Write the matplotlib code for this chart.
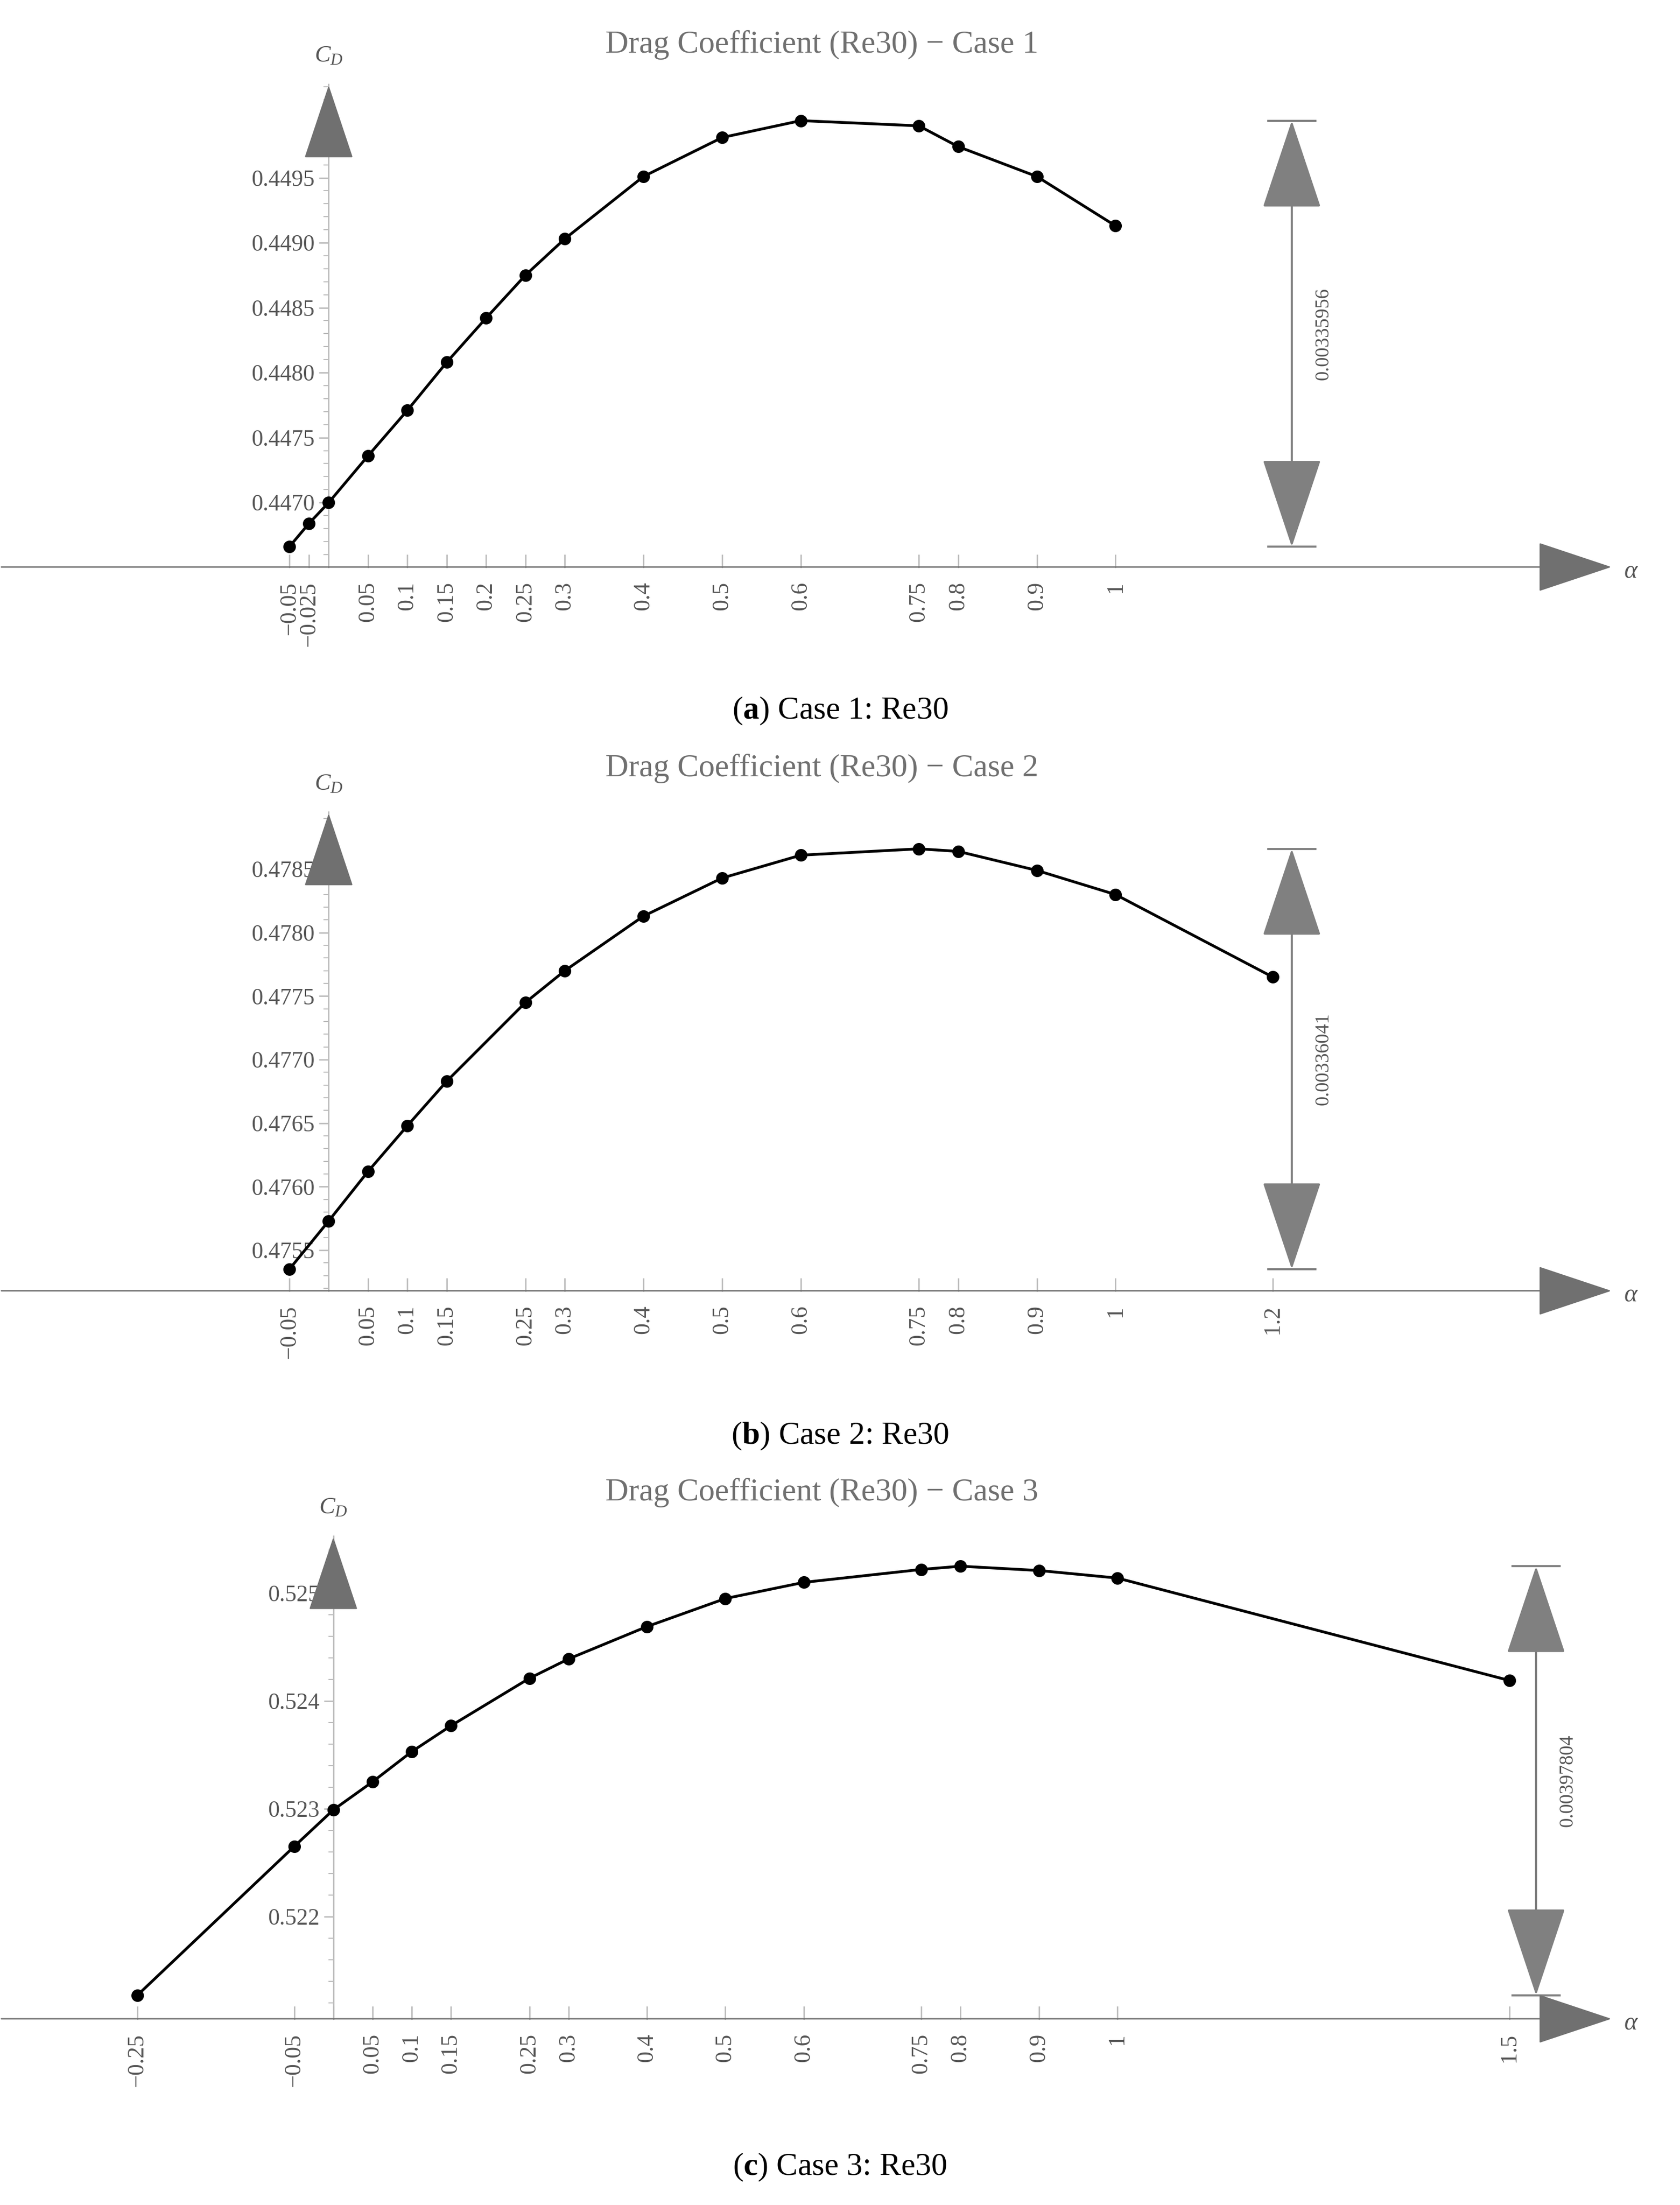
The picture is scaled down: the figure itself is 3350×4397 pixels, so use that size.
import matplotlib
matplotlib.use("Agg")
import matplotlib.pyplot as plt
import matplotlib.transforms as mtransforms
from matplotlib.ticker import AutoMinorLocator

plt.rcParams['font.family'] = ['Liberation Serif', 'DejaVu Serif']
plt.rcParams['mathtext.fontset'] = 'custom'
plt.rcParams['mathtext.rm'] = 'Liberation Serif'
plt.rcParams['mathtext.it'] = 'Liberation Serif:italic'
plt.rcParams['mathtext.bf'] = 'Liberation Serif:bold'

# ---- data ----
alpha1 = [-0.05, -0.025, 0, 0.05, 0.1, 0.15, 0.2, 0.25, 0.3, 0.4, 0.5, 0.6, 0.75, 0.8, 0.9, 1]
cd1 = [0.44666, 0.44684, 0.44700, 0.44736, 0.44771, 0.44808, 0.44842, 0.44875, 0.44903,
       0.44951, 0.44981, 0.44994, 0.44990, 0.44974, 0.44951, 0.44913]
xt1 = ["\u22120.05", "\u22120.025", "", "0.05", "0.1", "0.15", "0.2", "0.25", "0.3", "0.4", "0.5", "0.6", "0.75", "0.8", "0.9", "1"]
yt1 = [0.4470, 0.4475, 0.4480, 0.4485, 0.4490, 0.4495]

alpha2 = [-0.05, 0, 0.05, 0.1, 0.15, 0.25, 0.3, 0.4, 0.5, 0.6, 0.75, 0.8, 0.9, 1, 1.2]
cd2 = [0.47535, 0.47573, 0.47612, 0.47648, 0.47683, 0.47745, 0.47770, 0.47813, 0.47843,
       0.47861, 0.47866, 0.47864, 0.47849, 0.47830, 0.47765]
xt2 = ["\u22120.05", "", "0.05", "0.1", "0.15", "0.25", "0.3", "0.4", "0.5", "0.6", "0.75", "0.8", "0.9", "1", "1.2"]
yt2 = [0.4755, 0.4760, 0.4765, 0.4770, 0.4775, 0.4780, 0.4785]

alpha3 = [-0.25, -0.05, 0, 0.05, 0.1, 0.15, 0.25, 0.3, 0.4, 0.5, 0.6, 0.75, 0.8, 0.9, 1, 1.5]
cd3 = [0.52127, 0.52265, 0.52299, 0.52325, 0.52353, 0.52377, 0.52421, 0.52439, 0.52469,
       0.52495, 0.52510, 0.52522, 0.52525, 0.52521, 0.52514, 0.52419]
xt3 = ["\u22120.25", "\u22120.05", "", "0.05", "0.1", "0.15", "0.25", "0.3", "0.4", "0.5", "0.6", "0.75", "0.8", "0.9", "1", "1.5"]
yt3 = [0.522, 0.523, 0.524, 0.525]

titles = ["Drag Coefficient (Re30) \u2212 Case 1", "Drag Coefficient (Re30) \u2212 Case 2", "Drag Coefficient (Re30) \u2212 Case 3"]
captions = [r"($\mathbf{a}$) Case 1: Re30", r"($\mathbf{b}$) Case 2: Re30", r"($\mathbf{c}$) Case 3: Re30"]
dims = ["0.00335956", "0.00336041", "0.00397804"]

W, H = 1200.0, 1575.0
fig = plt.figure(figsize=(33.5, 43.97), dpi=100)

def fx(px): return px / W
def fy(py): return 1 - py / H

TXT = "#555555"

panels = [
    dict(a=alpha1, c=cd1, xt=xt1, yt=yt1, yfmt="%.4f", top=60, bot=405, xlim=(-0.311, 1.664),
         ylim=(0.446504, 0.450222), dimx=1.224, title_y=32, cap_y=508, cd_y=42),
    dict(a=alpha2, c=cd2, xt=xt2, yt=yt2, yfmt="%.4f", top=580, bot=922, xlim=(-0.311, 1.664),
         ylim=(0.47518, 0.47895), dimx=1.224, title_y=549, cap_y=1026, cd_y=558),
    dict(a=alpha3, c=cd3, xt=xt3, yt=yt3, yfmt="%.3f", top=1097, bot=1442, xlim=(-0.318, 1.664),
         ylim=(0.521052, 0.525532), dimx=1.534, title_y=1066, cap_y=1548, cd_y=1076),
]

for i, p in enumerate(panels):
    ax = fig.add_axes([fx(60), fy(p['bot']), fx(1170) - fx(60), (p['bot'] - p['top']) / H])
    ax.set_xlim(*p['xlim'])
    ax.set_ylim(*p['ylim'])
    ax.patch.set_alpha(0)
    for s in ['top', 'right', 'bottom']:
        ax.spines[s].set_visible(False)
    ax.spines['left'].set_position(('data', 0))
    ax.spines['left'].set_color("#bbbbbb")
    ax.spines['left'].set_linewidth(2)
    ax.plot(p['a'], p['c'], color='black', lw=4, marker='o', ms=17, zorder=5, clip_on=False)
    ax.set_yticks(p['yt'])
    ax.set_yticklabels([p['yfmt'] % v for v in p['yt']])
    ax.yaxis.set_minor_locator(AutoMinorLocator(5))
    ax.tick_params(axis='y', which='major', length=14, width=2, color="#bbbbbb", labelsize=33, labelcolor=TXT, pad=6)
    ax.tick_params(axis='y', which='minor', length=7, width=1.5, color="#bbbbbb")
    ax.set_xticks([])
    ax.annotate("", xy=(fx(1152), fy(p['bot'])), xytext=(0, fy(p['bot'])), xycoords='figure fraction',
                textcoords='figure fraction',
                arrowprops=dict(arrowstyle='-|>,head_length=0.9,head_width=0.3', color="#bbbbbb", lw=2,
                                mutation_scale=110, fc="#707070", ec="#707070"))
    fig.text(fx(1160), fy(p['bot'] + 3), r"$\alpha$", fontsize=36, color=TXT, va='center', ha='left')
    trans = mtransforms.blended_transform_factory(ax.transData, ax.transAxes)
    ax.annotate("", xy=(0, 1.0), xytext=(0, 0.85), xycoords=trans, textcoords=trans,
                arrowprops=dict(arrowstyle='-|>,head_length=0.9,head_width=0.3', color="#707070", lw=2,
                                mutation_scale=110, fc="#707070", ec="#707070"))
    ax.text(0, 1.035, r"$C_D$", transform=trans, fontsize=34, color=TXT, ha='center', va='bottom')
    for xv, lab in zip(p['a'], p['xt']):
        ax.plot([xv, xv], [0, 0.025], transform=trans, color="#bbbbbb", lw=2, clip_on=False)
        if lab:
            ax.text(xv, -0.03, lab, transform=trans, rotation=90, ha='center', va='top',
                    fontsize=33, color=TXT)
    ymin, ymax = min(p['c']), max(p['c'])
    ax.annotate("", xy=(p['dimx'], ymax), xytext=(p['dimx'], ymin),
                arrowprops=dict(arrowstyle='<|-|>,head_length=0.9,head_width=0.3', color="#808080", lw=3,
                                mutation_scale=130, shrinkA=0, shrinkB=0))
    for yv in (ymin, ymax):
        ax.plot([p['dimx'] - 0.03, p['dimx'] + 0.03], [yv, yv], color="#808080", lw=3, clip_on=False)
    ax.text(p['dimx'] + 0.04, (ymin + ymax) / 2, dims[i], rotation=90, ha='center', va='center',
            fontsize=28, color=TXT)
    fig.text(fx(587), fy(p['title_y']), titles[i], ha='center', va='center', fontsize=46, color="#707070")
    fig.text(fx(600), fy(p['cap_y']), captions[i], ha='center', va='center', fontsize=46, color="black")

fig.savefig("out.png", dpi=100)
